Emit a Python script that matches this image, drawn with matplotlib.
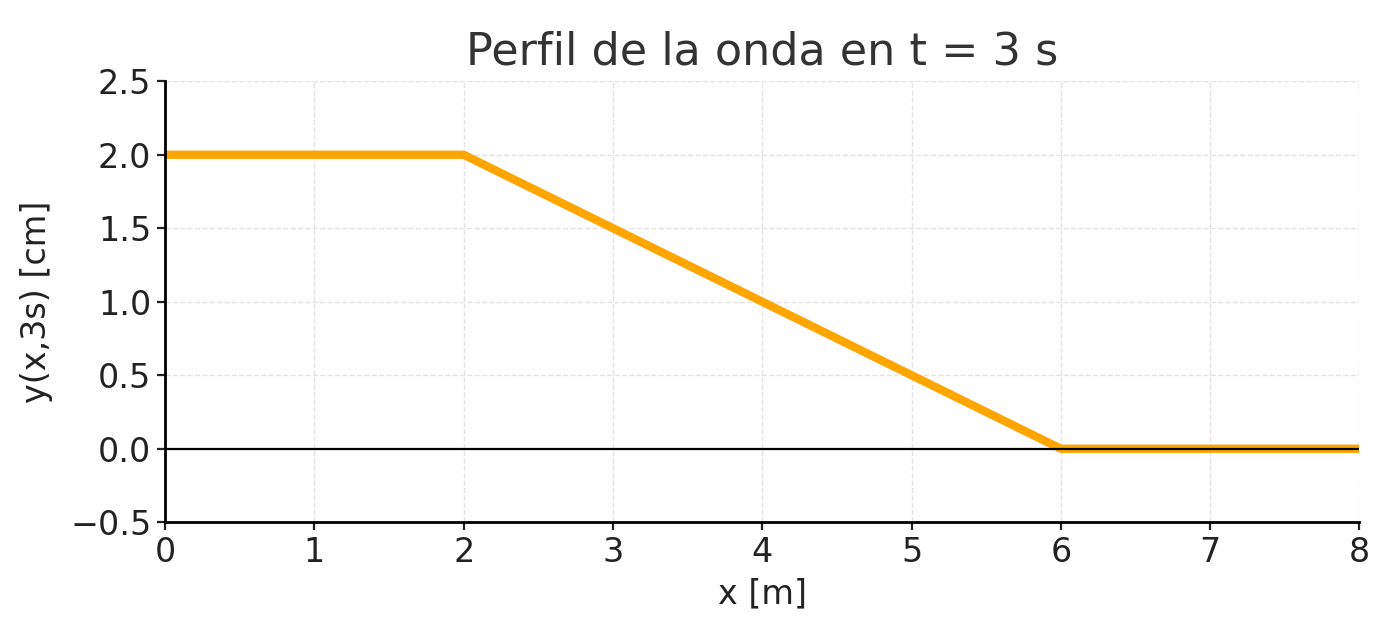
import matplotlib
matplotlib.use("Agg")
import matplotlib.pyplot as plt

# wave profile at t = 3 s
x_pts = [0, 2, 6, 8]
y_pts = [2.0, 2.0, 0.0, 0.0]
x_ticks = [0, 1, 2, 3, 4, 5, 6, 7, 8]
y_ticks = [-0.5, 0.0, 0.5, 1.0, 1.5, 2.0, 2.5]

plt.rcParams['font.family'] = ['DejaVu Sans']
fig = plt.figure(figsize=(7, 3.2), dpi=200)
ax = fig.add_axes([0.118, 0.184, 0.853, 0.689])

ax.plot(x_pts, y_pts, color='orange', lw=3)
ax.axhline(0, color='black', lw=0.8)

ax.set_xlim(0, 8)
ax.set_ylim(-0.5, 2.5)
ax.set_xticks(x_ticks)
ax.set_yticks(y_ticks)
ax.grid(True, ls='--', lw=0.5, color='#dddddd', alpha=0.8)
ax.spines['top'].set_visible(False)
ax.spines['right'].set_visible(False)
for s in ('left', 'bottom'):
    ax.spines[s].set_linewidth(1.0)
ax.tick_params(labelsize=12, colors='#222222', length=3, pad=2)

ax.set_title('Perfil de la onda en t = 3 s', fontsize=16, color='#333333')
ax.set_xlabel('x [m]', fontsize=12, color='#222222', labelpad=3)
ax.set_ylabel('y(x,3s) [cm]', fontsize=12, color='#222222', labelpad=6)

fig.savefig('out.png')
